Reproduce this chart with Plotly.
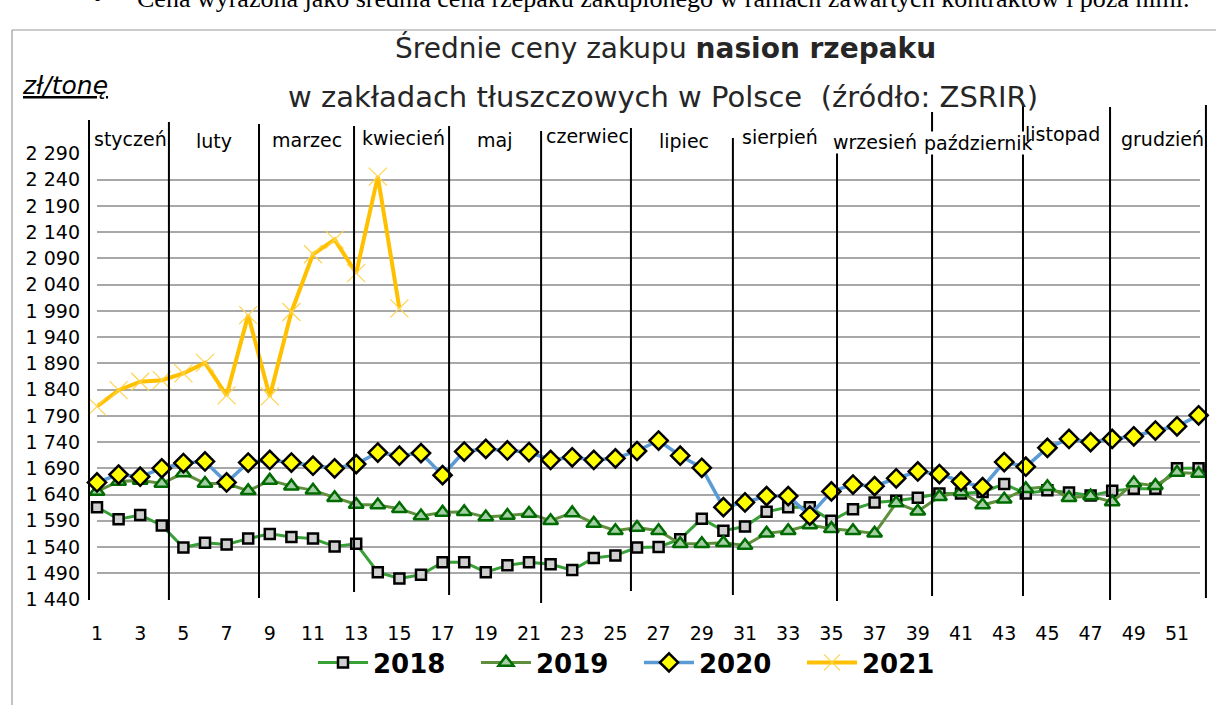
import plotly.graph_objects as go

# ---------------- data ----------------
weeks = list(range(1, 53))
weeks_2021 = list(range(1, 16))

y2018 = [1616, 1593, 1601, 1581, 1539, 1548, 1545, 1556, 1565, 1559, 1556, 1541, 1546,
         1492, 1480, 1487, 1511, 1511, 1492, 1505, 1511, 1507, 1496, 1519, 1524, 1539,
         1540, 1555, 1594, 1571, 1579, 1607, 1616, 1616, 1590, 1612, 1625, 1628, 1634,
         1642, 1642, 1645, 1660, 1642, 1648, 1644, 1638, 1647, 1651, 1651, 1690, 1690]

y2019 = [1646, 1665, 1667, 1661, 1681, 1661, 1661, 1647, 1667, 1656, 1648, 1634, 1621,
         1620, 1613, 1599, 1606, 1607, 1597, 1600, 1604, 1590, 1605, 1585, 1571, 1577,
         1571, 1546, 1546, 1548, 1543, 1566, 1571, 1582, 1575, 1571, 1566, 1624, 1608,
         1636, 1645, 1620, 1631, 1651, 1655, 1634, 1637, 1626, 1662, 1657, 1682, 1680]

y2020 = [1663, 1678, 1674, 1690, 1700, 1703, 1663, 1701, 1706, 1701, 1695, 1690, 1698,
         1720, 1714, 1719, 1677, 1722, 1727, 1724, 1721, 1706, 1711, 1706, 1709, 1723,
         1743, 1714, 1691, 1616, 1625, 1637, 1637, 1600, 1646, 1659, 1656, 1671, 1684,
         1679, 1665, 1654, 1702, 1693, 1729, 1746, 1740, 1746, 1751, 1762, 1770, 1791]

y2021 = [1808, 1839, 1855, 1858, 1871, 1891, 1829, 1982, 1827, 1988, 2098, 2126, 2062,
         2246, 1995]

y_tick_vals = [1440, 1490, 1540, 1590, 1640, 1690, 1740, 1790, 1840, 1890, 1940, 1990,
               2040, 2090, 2140, 2190, 2240, 2290]
y_tick_text = ["1 440", "1 490", "1 540", "1 590", "1 640", "1 690", "1 740", "1 790",
               "1 840", "1 890", "1 940", "1 990", "2 040", "2 090", "2 140", "2 190",
               "2 240", "2 290"]
x_tick_vals = [1, 3, 5, 7, 9, 11, 13, 15, 17, 19, 21, 23, 25, 27, 29, 31, 33, 35, 37,
               39, 41, 43, 45, 47, 49, 51]

months = ["styczeń", "luty", "marzec", "kwiecień", "maj", "czerwiec", "lipiec",
          "sierpień", "wrzesień", "październik", "listopad", "grudzień"]
month_label_week = [2.57, 6.42, 10.72, 15.17, 19.38, 23.69, 28.18, 32.62, 37.02,
                    41.79, 45.72, 50.31]
month_bounds_week = [0.63, 4.33, 8.5, 12.9, 17.3, 21.56, 25.72, 30.44, 35.26, 39.66,
                     43.87, 47.9, 52.34]

# ---------------- layout geometry ----------------
W, H = 1216, 705
ML, MR, MT, MB = 97, 16, 153, 105
PW, PH = W - ML - MR, H - MT - MB
XR = [1, 1 + PW / 21.6]
YR = [1439, 2291]


def ypx(py):
    return (H - MB - py) / PH


def xpx(px):
    return (px - ML) / PW


def xwk(wk):
    return (wk - XR[0]) / (XR[1] - XR[0])


FONT = "DejaVu Sans"

fig = go.Figure()

fig.add_trace(go.Scatter(
    x=weeks, y=y2018, name="<b>2018</b>", mode="lines+markers", cliponaxis=False,
    line=dict(color="#37a037", width=3),
    marker=dict(symbol="square", size=10, color="#cfcfcf",
                line=dict(color="#000000", width=2.5))))
fig.add_trace(go.Scatter(
    x=weeks, y=y2019, name="<b>2019</b>", mode="lines+markers", cliponaxis=False,
    line=dict(color="#5f8f3c", width=3),
    marker=dict(symbol="triangle-up", size=13, color="#a4cfa4",
                line=dict(color="#006b00", width=2.5))))
fig.add_trace(go.Scatter(
    x=weeks, y=y2020, name="<b>2020</b>", mode="lines+markers", cliponaxis=False,
    line=dict(color="#5b9bd5", width=3.5),
    marker=dict(symbol="diamond", size=14, color="#ffff00",
                line=dict(color="#000000", width=2.5))))
fig.add_trace(go.Scatter(
    x=weeks_2021, y=y2021, name="<b>2021</b>", mode="lines+markers", cliponaxis=False,
    line=dict(color="#ffc000", width=4),
    marker=dict(symbol="x-thin", size=18, color="#ffc000",
                line=dict(color="#ffd34d", width=1.2))))

shapes = []
month_tops = [120, 122, 124, 126, 126, 131, 128, 138, 150, 112, 105, 107, 105]
month_bots = [600, 600, 598, 592, 595, 603, 591, 595, 601, 596, 596, 600, 598]
for wk, t, b in zip(month_bounds_week, month_tops, month_bots):
    shapes.append(dict(type="line", xref="paper", yref="paper",
                       x0=xwk(wk), x1=xwk(wk), y0=ypx(b), y1=ypx(t),
                       line=dict(color="#000000", width=2), layer="above"))
# outer frame of the picture
shapes.append(dict(type="line", xref="paper", yref="paper", x0=xpx(12), x1=xpx(12),
                   y0=ypx(705), y1=ypx(30), line=dict(color="#9a9a9a", width=1.2)))
shapes.append(dict(type="line", xref="paper", yref="paper", x0=xpx(12), x1=xpx(1216),
                   y0=ypx(30), y1=ypx(30), line=dict(color="#9a9a9a", width=1.2)))

annotations = []
month_label_y = [139, 141, 140, 138, 140, 136, 141, 137, 142, 143, 134, 139]
for name, wk, py in zip(months, month_label_week, month_label_y):
    bg = "#ffffff" if name in ("wrzesień", "październik") else None
    annotations.append(dict(text=name, xref="paper", yref="paper", x=xwk(wk), y=ypx(py),
                            xanchor="center", yanchor="middle", showarrow=False,
                            bgcolor=bg, borderpad=0,
                            font=dict(family=FONT, size=19, color="#000000")))

annotations.append(dict(text="Średnie ceny zakupu <b>nasion rzepaku</b>", xref="paper",
                        yref="paper", x=xpx(665), y=ypx(48), xanchor="center",
                        yanchor="middle", showarrow=False,
                        font=dict(family=FONT, size=28, color="#262626")))
annotations.append(dict(text="w zakładach tłuszczowych w Polsce  (źródło: ZSRIR)",
                        xref="paper", yref="paper", x=xpx(663), y=ypx(97),
                        xanchor="center", yanchor="middle", showarrow=False,
                        font=dict(family=FONT, size=29, color="#262626")))
annotations.append(dict(text="<i><u>zł/tonę</u></i>", xref="paper", yref="paper",
                        x=xpx(20), y=ypx(86), xanchor="left", yanchor="middle",
                        showarrow=False, font=dict(family=FONT, size=25, color="#000000")))
annotations.append(dict(text="•", xref="paper", yref="paper", x=xpx(97), y=ypx(-1),
                        xanchor="center", yanchor="middle", showarrow=False,
                        font=dict(family="Liberation Serif", size=26, color="#000000")))
annotations.append(dict(text="Cena wyrażona jako średnia cena rzepaku zakupionego w ramach "
                             "zawartych kontraktów i poza nimi.",
                        xref="paper", yref="paper", x=xpx(135), y=ypx(-1),
                        xanchor="left", yanchor="middle", showarrow=False,
                        font=dict(family="Liberation Serif", size=26, color="#000000")))

fig.update_layout(
    width=W, height=H,
    margin=dict(l=ML, r=MR, t=MT, b=MB, pad=0),
    paper_bgcolor="#ffffff", plot_bgcolor="#ffffff",
    font=dict(family=FONT, color="#000000"),
    showlegend=True,
    legend=dict(orientation="h", x=xpx(639), xanchor="center", y=ypx(639), yanchor="top",
                font=dict(family=FONT, size=26, color="#000000"),
                itemwidth=50, entrywidth=98, entrywidthmode="pixels",
                bgcolor="rgba(0,0,0,0)", tracegroupgap=0),
    shapes=shapes,
    annotations=annotations,
)
fig.update_xaxes(range=XR, tickvals=x_tick_vals, ticktext=[str(v) for v in x_tick_vals],
                 showgrid=False, zeroline=False, showline=False, ticks="",
                 ticklabelstandoff=20, tickfont=dict(family=FONT, size=19, color="#000000"))
fig.update_yaxes(range=YR, tickvals=y_tick_vals, ticktext=y_tick_text,
                 showgrid=True, gridcolor="#a8a8a8", gridwidth=1.5, zeroline=False,
                 showline=False, ticks="", ticklabelstandoff=16,
                 tickfont=dict(family=FONT, size=19, color="#000000"))

fig.write_html("out.html", config={"displayModeBar": False},
               post_script="document.body.style.margin='0';"
                           "document.body.style.padding='0';")
